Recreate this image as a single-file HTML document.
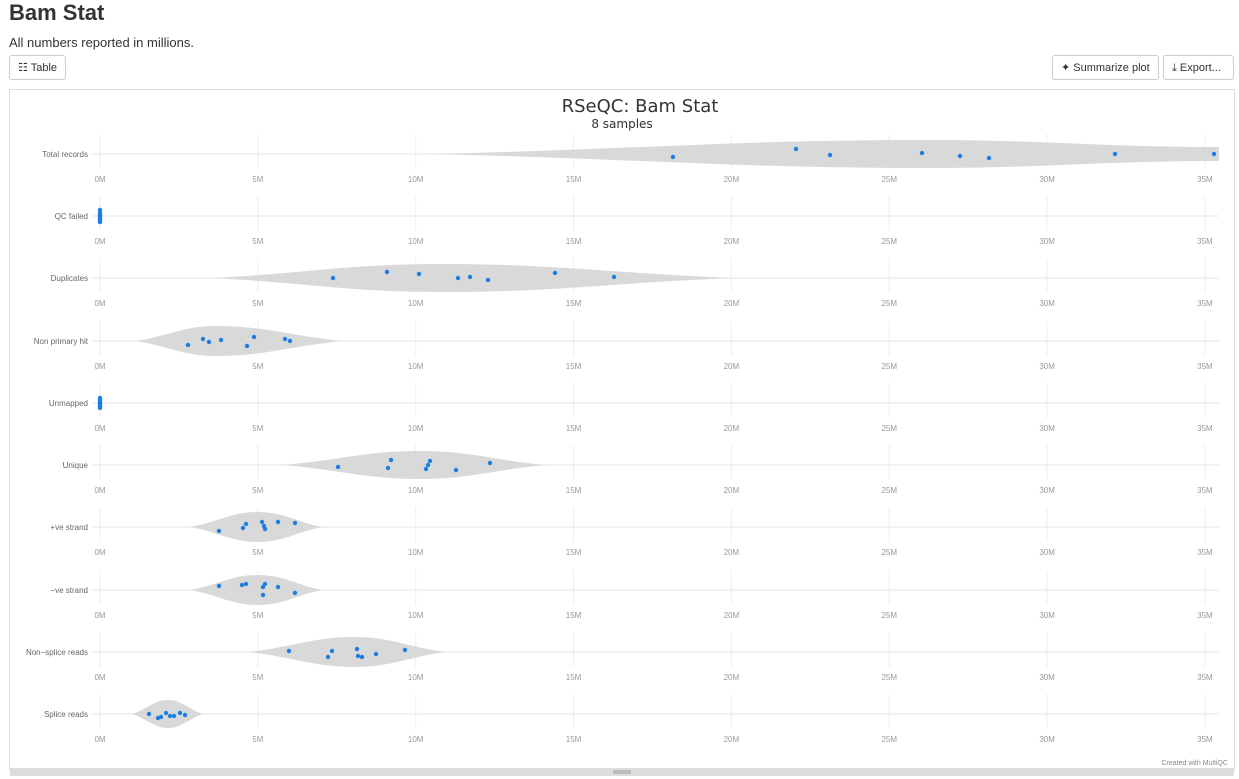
<!DOCTYPE html>
<html><head><meta charset="utf-8"><style>
body{margin:0;background:#fff;font-family:"Liberation Sans",sans-serif;width:1239px;height:779px;overflow:hidden;position:relative}
h1{position:absolute;left:9px;top:0;margin:0;font-size:22px;font-weight:bold;color:#333}
.sub{position:absolute;left:9px;top:35px;font-size:13px;color:#333}
.btn{position:absolute;top:55px;height:25px;border:1px solid #ccc;border-radius:3px;font-size:11px;color:#333;line-height:25px;padding:0 8px;box-sizing:border-box;background:#fff}
</style></head><body>
<h1>Bam Stat</h1>
<div class="sub">All numbers reported in millions.</div>
<div class="btn" style="left:9px;width:57px">☷ Table</div>
<div class="btn" style="left:1052px;width:107px">✦ Summarize plot</div>
<div class="btn" style="left:1163px;width:71px">⤓ Export...</div>
<svg id="s" width="1239" height="779" style="position:absolute;left:0;top:0"></svg>
<script>
var s='<rect x="9.5" y="89.5" width="1225" height="680" fill="none" stroke="#ddd"/>';
s+='<rect x="10" y="768" width="1224" height="8" fill="#ddd"/><line x1="613" x2="631" y1="771" y2="771" stroke="#999"/><line x1="613" x2="631" y1="773" y2="773" stroke="#999"/>';
s+='<text x="640" y="112" text-anchor="middle" font-size="18" fill="#333" font-family="DejaVu Sans">RSeQC: Bam Stat</text>';
s+='<text x="622" y="128" text-anchor="middle" font-size="12" fill="#333" font-family="DejaVu Sans">8 samples</text>';
s+='<text x="1228" y="765" text-anchor="end" font-size="7" fill="#888">Created with MultiQC</text>';
function X(m){return 100+m*31.57;}
var rows=[
["Total records",154,[428,930,14,1219,7],[[673,157],[796,149],[830,155],[922,153],[960,156],[989,158],[1115,154],[1214,154]]],
["QC failed",216,[97,100,4,103,0],[[100,210],[100,213],[100,216],[100,218],[100,220],[100,222],[100,215],[100,219]]],
["Duplicates",278,[210,440,14,737,0],[[333,278],[387,272],[419,274],[458,278],[470,277],[488,280],[555,273],[614,277]]],
["Non primary hit",341,[135,215,15,344,0],[[188,345],[203,339],[209,342],[221,340],[247,346],[254,337],[285,339],[290,341]]],
["Unmapped",403,[97,100,4,103,0],[[100,398],[100,400],[100,403],[100,405],[100,407],[100,408],[100,401],[100,406]]],
["Unique",465,[282,420,14,547,0],[[338,467],[388,468],[391,460],[426,469],[428,465],[430,461],[456,470],[490,463]]],
["+ve strand",527,[190,258,15,323,0],[[219,531],[243,528],[246,524],[262,522],[264,526],[265,529],[278,522],[295,523]]],
["−ve strand",590,[190,258,15,323,0],[[219,586],[242,585],[246,584],[263,587],[265,584],[263,595],[278,587],[295,593]]],
["Non−splice reads",652,[248,355,15,446,0],[[289,651],[332,651],[328,657],[357,649],[358,656],[362,657],[376,654],[405,650]]],
["Splice reads",714,[132,168,14,203,0],[[149,714],[158,718],[161,717],[166,713],[170,716],[174,716],[180,713],[185,715]]]];
rows.forEach(function(r){
 var y=r[1],v=r[2],x0=v[0],p=v[1],h=v[2],x1=v[3],hr=v[4];
 for(var k=0;k<=7;k++){var x=X(k*5);s+='<line x1="'+x+'" x2="'+x+'" y1="'+(y-20)+'" y2="'+(y+15)+'" stroke="#eee"/>';
  s+='<text x="'+x+'" y="'+(y+28)+'" text-anchor="middle" font-size="8" fill="#999">'+(k*5)+'M</text>';}
 s+='<line x1="92" x2="1219" y1="'+y+'" y2="'+y+'" stroke="#e4e4e4"/>';
 s+='<text x="88" y="'+(y+3)+'" text-anchor="end" font-size="8" fill="#666">'+r[0]+'</text>';
 var a=p-x0,b=x1-p,f=0.3;
 var d='M'+x0+','+y+' C'+(x0+a*0.4)+','+(y-h*f)+' '+(p-a*0.4)+','+(y-h)+' '+p+','+(y-h)+
 ' C'+(p+b*0.4)+','+(y-h)+' '+(x1-b*0.4)+','+(y-Math.max(hr,h*f))+' '+x1+','+(y-hr)+
 ' L'+x1+','+(y+hr)+' C'+(x1-b*0.4)+','+(y+Math.max(hr,h*f))+' '+(p+b*0.4)+','+(y+h)+' '+p+','+(y+h)+
 ' C'+(p-a*0.4)+','+(y+h)+' '+(x0+a*0.4)+','+(y+h*f)+' '+x0+','+y+'Z';
 s+='<path d="'+d+'" fill="#d9d9d9"/>';
 r[3].forEach(function(q){s+='<circle cx="'+q[0]+'" cy="'+q[1]+'" r="2.2" fill="#1a7fe0"/>';});
});
document.getElementById('s').innerHTML=s;
</script>
</body></html>
